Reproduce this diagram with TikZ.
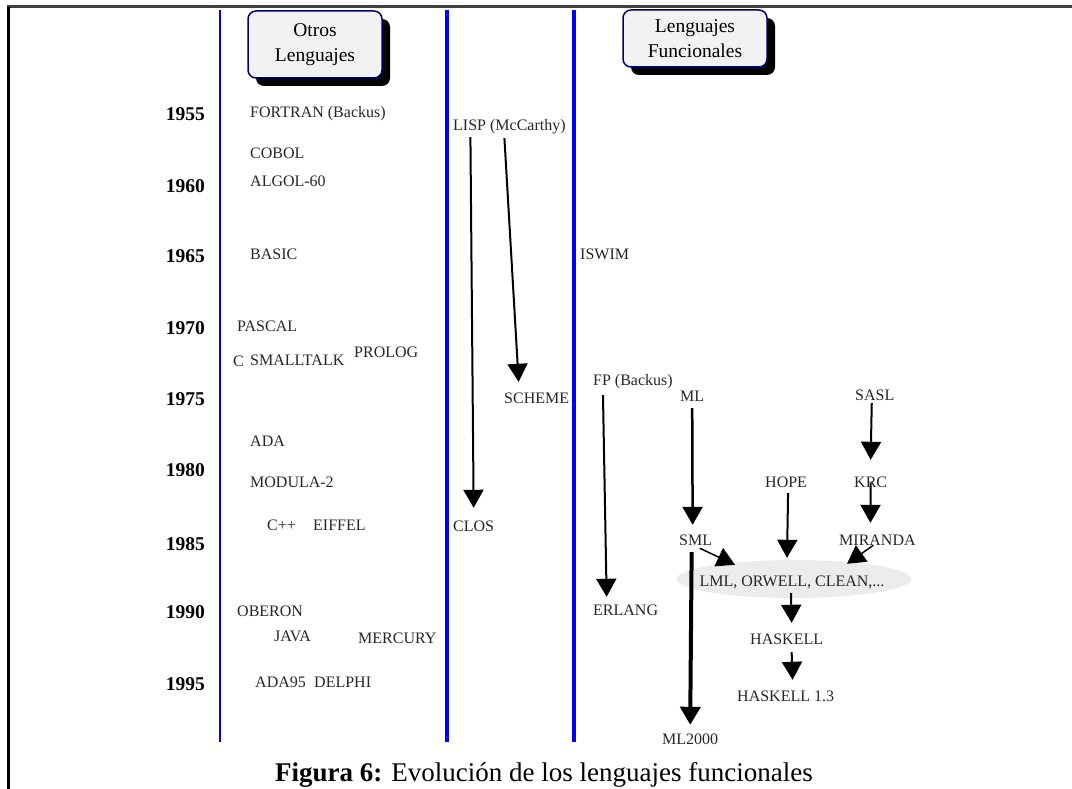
\documentclass[tikz,border=0pt]{standalone}
\usepackage{fontspec}
\setmainfont{Liberation Serif}
\usetikzlibrary{arrows.meta,shapes.geometric,shadows}

\tikzset{
	lang/.style={font=\fontsize{16}{18}\selectfont, text=black!85, inner sep=0pt, anchor=west, text height=11pt, text depth=3pt},
	year/.style={font=\fontsize{19.5}{22}\selectfont\bfseries, anchor=east, inner sep=0pt},
	head/.style={draw=blue!45!black, line width=1.5pt, fill=gray!10, rounded corners=8pt, align=center, font=\fontsize{19.5}{25}\selectfont, inner sep=0pt, drop shadow={shadow xshift=8pt, shadow yshift=-8pt, fill=black, opacity=1}},
	flecha/.style={line width=2pt, -{Triangle[width=20pt,length=18pt]}},
	guia/.style={blue, line width=3.5pt},
}

\begin{document}
\begin{tikzpicture}[x=1pt, y=-1pt]
\useasboundingbox (0,0) rectangle (1072,789);
% 枠
	\draw[line width=3pt, black!75] (7,7)-- (1072,7); %上
	\draw[line width=3pt] (8,7)-- (8,789); %左
% 縦線
	\draw[guia, line width=2.5pt] (220,10)-- (220,742);
	\draw[guia] (447,10)-- (447,742);
	\draw[guia] (574,10)-- (574,742);
% 見出し
	\node[head, minimum width=134pt, minimum height=67pt] (otros) at (315,44.5) {Otros\\Lenguajes};
	\node[head, minimum width=144pt, minimum height=57pt] (func) at (695,38.5) {Lenguajes\\Funcionales};
% 年
	\foreach \y/\yy in {1955/114, 1960/186, 1965/256, 1970/328, 1975/399, 1980/470, 1985/544, 1990/612, 1995/684}
		\node[year] (a\y) at (205,\yy) {\y};
% 左：他の言語
	\node[lang] (fortran) at (250,114) {FORTRAN (Backus)};
	\node[lang] (cobol) at (250,155) {COBOL};
	\node[lang] (algol) at (250,183) {ALGOL-60};
	\node[lang] (basic) at (250,255) {BASIC};
	\node[lang] (pascal) at (237,327) {PASCAL};
	\node[lang] (c) at (233,362) {C};
	\node[lang] (smalltalk) at (250,361) {SMALLTALK};
	\node[lang] (prolog) at (354,353) {PROLOG};
	\node[lang] (ada) at (250,442) {ADA};
	\node[lang] (modula) at (250,483) {MODULA-2};
	\node[lang] (cpp) at (267,526) {C++};
	\node[lang] (eiffel) at (313,526) {EIFFEL};
	\node[lang] (oberon) at (237,612) {OBERON};
	\node[lang] (java) at (274,637) {JAVA};
	\node[lang] (mercury) at (358,639) {MERCURY};
	\node[lang] (ada95) at (255,683) {ADA95};
	\node[lang] (delphi) at (314,683) {DELPHI};
% 中央：LISP
	\node[lang] (lisp) at (453,127) {LISP (McCarthy)};
	\node[lang] (scheme) at (504,399) {SCHEME};
	\node[lang] (clos) at (453,527) {CLOS};
% 右：関数型言語
	\node[lang] (iswim) at (580,255) {ISWIM};
	\node[lang] (fp) at (593,381) {FP (Backus)};
	\node[lang] (ml) at (680,397) {ML};
	\node[lang] (sasl) at (855,396) {SASL};
	\node[lang] (hope) at (765,483) {HOPE};
	\node[lang] (krc) at (854,483) {KRC};
	\node[lang] (sml) at (679,541) {SML};
	\node[lang] (miranda) at (839,541) {MIRANDA};
	\node[ellipse, fill=gray!15, minimum width=235pt, minimum height=38pt, inner sep=0pt] (lml) at (794,579) {};
	\node[lang, anchor=center] (lmltxt) at (792,582) {LML, ORWELL, CLEAN,...};
	\node[lang] (erlang) at (593,611) {ERLANG};
	\node[lang] (haskell) at (750,640) {HASKELL};
	\node[lang] (haskell13) at (737,697) {HASKELL 1.3};
	\node[lang] (ml2000) at (662,740) {ML2000};
% 矢印
	\draw[flecha] ([xshift=-39pt, yshift=-3pt]lisp.south)-- ([yshift=12pt]clos.north);
	\draw[flecha] ([xshift=-5pt, yshift=-4pt]lisp.south)-- ([xshift=-18pt, yshift=10pt]scheme.north);
	\draw[flecha] ([xshift=-30pt, yshift=-7pt]fp.south)-- ([xshift=-19pt, yshift=7pt]erlang.north);
	\draw[flecha, line width=2.5pt] ([yshift=-4pt]ml.south)-- ([xshift=-3pt, yshift=9pt]sml.north);
	\draw[flecha] ([xshift=-3pt]sasl.south)-- ([yshift=16pt]krc.north);
	\draw[flecha] (krc.center)-- ([xshift=-7pt, yshift=11pt]miranda.north);
	\draw[flecha] ([xshift=2pt, yshift=-3pt]hope.south)-- ([xshift=-7pt, yshift=2pt]lml.north);
	\draw[flecha, line width=1.5pt] ([xshift=4pt]sml.south)-- ([xshift=-59pt, yshift=-5pt]lml.north);
	\draw[flecha, line width=1.5pt] ([xshift=-4pt, yshift=3pt]miranda.south)-- ([xshift=53pt, yshift=-4pt]lml.north);
	\draw[flecha, line width=4pt] ([xshift=-4pt, yshift=-4pt]sml.south)-- ([yshift=8pt]ml2000.north);
	\draw[flecha] ([xshift=-3pt, yshift=5pt]lml.south)-- ([xshift=5pt, yshift=10pt]haskell.north);
	\draw[flecha] ([xshift=5pt, yshift=-5pt]haskell.south)-- ([xshift=7pt, yshift=10pt]haskell13.north);
% 図の説明
	\node[anchor=west, inner sep=0pt, font=\fontsize{27}{30}\selectfont] (titulo) at (275,775) {\textbf{Figura 6:} Evolución de los lenguajes funcionales};
\end{tikzpicture}
\end{document}
